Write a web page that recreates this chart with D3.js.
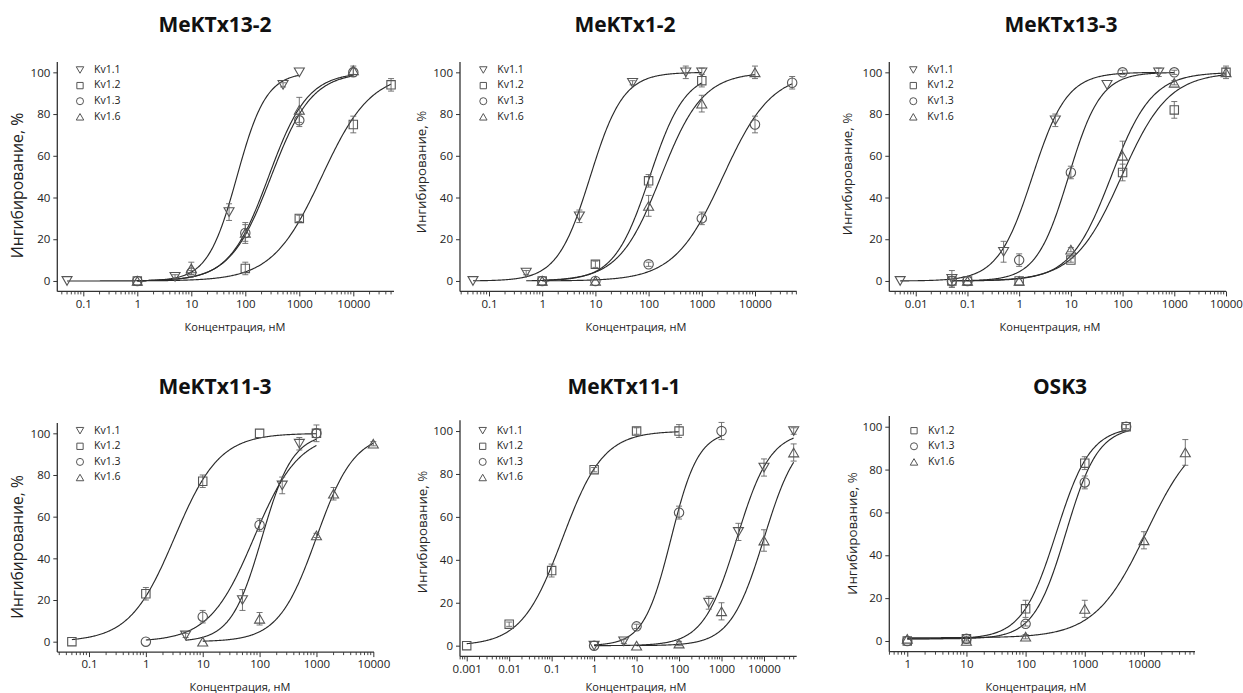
<!DOCTYPE html>
<html><head><meta charset="utf-8">
<script src="https://cdn.jsdelivr.net/npm/d3@7"></script>
<style>
body{margin:0;background:#fff}
svg text{font-family:"Open Sans",sans-serif;fill:#222}
</style>
</head><body>
<svg id="c" width="1243" height="693"></svg>
<script>
// ---------- DATA ----------
const titles = ["MeKTx13-2","MeKTx1-2","MeKTx13-3","MeKTx11-3","MeKTx11-1","OSK3"];
const seriesNames = ["Kv1.1","Kv1.2","Kv1.3","Kv1.6"];
const seriesShapes = {"Kv1.1":"down","Kv1.2":"square","Kv1.3":"circle","Kv1.6":"up"};
const yTickValues = [0,20,40,60,80,100];
const yLabel = "Ингибирование, %";
const xLabel = "Концентрация, нМ";
const xTickLabels = [
  ["0.1","1","10","100","1000","10000"],
  ["0.1","1","10","100","1000","10000"],
  ["0.01","0.1","1","10","100","1000","10000"],
  ["0.1","1","10","100","1000","10000"],
  ["0.001","0.01","0.1","1","10","100","1000","10000"],
  ["1","10","100","1000","10000"]
];

// points: [concentration nM, inhibition %, error]
const mk13_2 = {
  "Kv1.1": [[0.05,0,0],[5,2,1],[50,33,4],[500,94,1],[1000,100,0]],
  "Kv1.2": [[1,0,0],[100,6,3],[1000,30,1.5],[10000,75,4],[50000,94,3]],
  "Kv1.3": [[1,0,0],[10,4,1],[100,23,4],[1000,77,3],[10000,100,2]],
  "Kv1.6": [[1,0,0],[10,6,3],[100,23,5],[1000,82,6],[10000,101,2]]
};
const mk1_2 = {
  "Kv1.1": [[0.05,0,0],[0.5,4,1],[5,31,3],[50,95,1],[500,100,3],[1000,100,2]],
  "Kv1.2": [[1,0,0],[10,8,1.5],[100,48,3],[1000,96,3]],
  "Kv1.3": [[1,0,0],[10,0,0],[100,8,1],[1000,30,3],[10000,75,4],[50000,95,3]],
  "Kv1.6": [[1,0,0],[10,0,0],[100,36,5],[1000,85,4],[10000,100,3]]
};
const mk13_3 = {
  "Kv1.1": [[0.005,0,0],[0.05,1,4],[0.5,14,5],[5,77,3],[50,94,0],[500,100,2]],
  "Kv1.2": [[0.05,0,0],[0.1,0,0],[1,0,0],[10,10,1],[100,52,4],[1000,82,4],[10000,100,3]],
  "Kv1.3": [[0.05,0,3],[0.1,0,0],[1,10,3],[10,52,3],[100,100,1],[1000,100,1]],
  "Kv1.6": [[0.1,0,0],[1,0,0],[10,15,1],[100,60,7],[1000,95,1],[10000,100,2]]
};
const mk11_3 = {
  "Kv1.1": [[5,3,1],[50,20,5],[250,75,4],[500,95,3]],
  "Kv1.2": [[0.05,0,0],[1,23,3],[10,77,3],[100,100,0],[1000,100,4]],
  "Kv1.3": [[1,0,0],[10,12,3],[100,56,3],[1000,100,2]],
  "Kv1.6": [[10,0,0],[100,11,3],[1000,51,1],[2000,71,3],[10000,95,1]]
};
const mk11_1 = {
  "Kv1.1": [[1,0,0],[5,2,1],[500,20,3],[2500,53,4],[10000,83,4],[50000,100,1.5]],
  "Kv1.2": [[0.001,0,0],[0.01,10,1],[0.1,35,3],[1,82,1],[10,100,1.5],[100,100,3]],
  "Kv1.3": [[1,0,0],[10,9,1],[100,62,3],[1000,100,4]],
  "Kv1.6": [[10,0,0],[100,1,1],[1000,16,4],[10000,49,5],[50000,90,4]]
};
const osk3 = {
  "Kv1.2": [[1,0,0],[10,1,1],[100,15,4],[1000,83,3],[5000,100,1]],
  "Kv1.3": [[1,0,0],[10,1,0],[100,8,1],[1000,74,3],[5000,100,1]],
  "Kv1.6": [[1,1,0],[10,0,0],[100,2,1],[1000,15,4],[10000,47,4],[50000,88,6]]
};

// Hill fits: [IC50 nM, Hill slope, bottom %, curve from, curve to]
const mk13_2Fit = {"Kv1.1":[70,1.6,0,0.05,1000],"Kv1.2":[2600,0.95,0,1,50000],"Kv1.3":[300,1.15,0,1,10000],"Kv1.6":[270,1.2,0,1,10000]};
const mk1_2Fit  = {"Kv1.1":[8,1.4,0,0.05,1000],"Kv1.2":[105,1.3,0,0.5,1000],"Kv1.3":[2500,0.95,0,1,50000],"Kv1.6":[170,1.1,0,1,10000]};
const mk13_3Fit = {"Kv1.1":[1.8,1.3,0,0.005,500],"Kv1.2":[95,0.95,0,0.05,10000],"Kv1.3":[9,1.4,0,0.05,1000],"Kv1.6":[60,1.1,0,0.1,10000]};
const mk11_3Fit = {"Kv1.1":[110,1.6,0,5,1000],"Kv1.2":[3.2,1.1,0,0.05,1000],"Kv1.3":[80,1.1,0,1,1000],"Kv1.6":[1000,1.3,0,10,10000]};
const mk11_1Fit = {"Kv1.1":[2300,1.1,0,1,50000],"Kv1.2":[0.18,0.9,0,0.001,100],"Kv1.3":[65,1.35,0,1,1000],"Kv1.6":[10000,1.1,0,10,50000]};
const osk3Fit   = {"Kv1.2":[330,1.5,1,1,5000],"Kv1.3":[480,1.6,1,1,5000],"Kv1.6":[11000,1.0,1.5,1,50000]};

const panelData = [mk13_2, mk1_2, mk13_3, mk11_3, mk11_1, osk3];
const panelFits = [mk13_2Fit, mk1_2Fit, mk13_3Fit, mk11_3Fit, mk11_1Fit, osk3Fit];

// ---------- LAYOUT ----------
const layout = [
  {l:57.3, r:394, t:61.9, b:291.4, xmin:0.033, xmax:56700, tx:215, ty:32, xtx:235, xty:331, ytx:18.5, yty:185.5, yts:15.8, lx:80, ly:70},
  {l:460, r:796.7, t:61.9, b:291.4, xmin:0.0285, xmax:60800, tx:625, ty:32, xtx:636, xty:331, ytx:422, yty:172, yts:13.3, lx:483.3, ly:70},
  {l:889.3, r:1226, t:61.9, b:291.4, xmin:0.00308, xmax:10000, tx:1061, ty:32, xtx:1050, xty:331, ytx:848, yty:174, yts:13.3, lx:913.3, ly:70},
  {l:57.3, r:374, t:422.9, b:652.1, xmin:0.0277, xmax:10280, tx:215, ty:394, xtx:240, xty:691, ytx:18.5, yty:547, yts:15.6, lx:80, ly:430.7},
  {l:460, r:796.7, t:420.3, b:656.4, xmin:0.000695, xmax:58900, tx:624, ty:394, xtx:636, xty:691, ytx:423.5, yty:532, yts:13.3, lx:482.7, ly:430.7},
  {l:889.3, r:1195, t:416, b:651.7, xmin:0.497, xmax:72900, tx:1060, ty:394, xtx:1036, xty:691, ytx:853, yty:533.5, yts:13.3, lx:914, ly:430.7}
];

const svg = d3.select("#c");
const markColor = "#555", curveColor = "#2a2a2a", axisColor = "#333";

function shapePath(shape, s){
  if(shape==="square"){ const h=s*0.42; return `M${-h},${-h}H${h}V${h}H${-h}Z`; }
  if(shape==="circle"){ const r=s*0.47; return `M${r},0A${r},${r} 0 1,1 ${-r},0A${r},${r} 0 1,1 ${r},0Z`; }
  const a=s, hh=a*Math.sqrt(3)/2;
  if(shape==="up") return `M0,${-hh/2}L${a/2},${hh/2}L${-a/2},${hh/2}Z`;
  return `M0,${hh/2}L${a/2},${-hh/2}L${-a/2},${-hh/2}Z`;
}

function hill(x, p){ const f = Math.pow(x/p[0], p[1]); return p[2] + (100-p[2])*f/(1+f); }

panelData.forEach((data, i) => {
  const L = layout[i];
  const g = svg.append("g");
  const x = d3.scaleLog().domain([L.xmin, L.xmax]).range([L.l, L.r]);
  const y = d3.scaleLinear().domain([-5, 105]).range([L.b, L.t]);

  // title
  g.append("text").attr("x", L.tx).attr("y", L.ty).attr("text-anchor","middle")
    .style("font-weight","700").style("font-size","21px").style("fill","#111").text(titles[i]);

  // x axis
  const majors = xTickLabels[i].map(Number);
  const minors = [];
  for(let e=Math.floor(Math.log10(L.xmin)); e<=Math.ceil(Math.log10(L.xmax)); e++){
    for(let m=2;m<=9;m++){ const v=m*Math.pow(10,e); if(v>=L.xmin && v<=L.xmax) minors.push(v); }
  }
  const xa = d3.axisBottom(x).tickValues(majors).tickFormat((d,k)=>xTickLabels[i][k]).tickSize(5).tickPadding(3);
  const xg = g.append("g").attr("transform",`translate(0,${L.b})`).call(xa);
  xg.select(".domain").attr("stroke",axisColor).attr("stroke-width",1.3).attr("d",`M${L.l},0H${L.r}`);
  xg.selectAll(".tick line").attr("stroke",axisColor).attr("stroke-width",1);
  xg.selectAll(".tick text").style("font-size","11.5px").style("fill","#222").style("font-family","'Open Sans',sans-serif");
  g.append("g").selectAll("line").data(minors).join("line")
    .attr("x1",d=>x(d)).attr("x2",d=>x(d)).attr("y1",L.b).attr("y2",L.b+3)
    .attr("stroke",axisColor).attr("stroke-width",0.9);

  // y axis
  const ya = d3.axisLeft(y).tickValues(yTickValues).tickSize(4).tickPadding(3);
  const yg = g.append("g").attr("transform",`translate(${L.l},0)`).call(ya);
  yg.select(".domain").attr("stroke",axisColor).attr("stroke-width",1.3).attr("d",`M0,${L.b}V${L.t}`);
  yg.selectAll(".tick line").attr("stroke",axisColor).attr("stroke-width",1);
  yg.selectAll(".tick text").style("font-size","11.5px").style("fill","#222").style("font-family","'Open Sans',sans-serif");

  // axis titles
  g.append("text").attr("x",L.xtx).attr("y",L.xty).attr("text-anchor","middle")
    .style("font-size","11px").text(xLabel);
  g.append("text").attr("transform",`translate(${L.ytx},${L.yty}) rotate(-90)`)
    .attr("text-anchor","middle").attr("dominant-baseline","middle")
    .style("font-size",L.yts+"px").text(yLabel);

  const fits = panelFits[i];
  const names = Object.keys(data);

  // curves
  names.forEach(name => {
    const p = fits[name];
    const lx0 = Math.log10(p[3]), lx1 = Math.log10(p[4]);
    const pts = d3.range(0, 301).map(k => Math.pow(10, lx0 + (lx1-lx0)*k/300));
    const line = d3.line().x(d=>x(d)).y(d=>y(hill(d,p))).curve(d3.curveLinear);
    g.append("path").attr("d", line(pts)).attr("fill","none")
      .attr("stroke",curveColor).attr("stroke-width",1.15);
  });

  // error bars + markers
  names.forEach(name => {
    const pts = data[name];
    const eg = g.append("g").attr("stroke","#666").attr("stroke-width",0.9);
    pts.filter(d=>d[2]>0).forEach(d => {
      const cx = x(d[0]);
      eg.append("line").attr("x1",cx).attr("x2",cx).attr("y1",y(d[1]-d[2])).attr("y2",y(d[1]+d[2]));
      eg.append("line").attr("x1",cx-3).attr("x2",cx+3).attr("y1",y(d[1]+d[2])).attr("y2",y(d[1]+d[2]));
      eg.append("line").attr("x1",cx-3).attr("x2",cx+3).attr("y1",y(d[1]-d[2])).attr("y2",y(d[1]-d[2]));
    });
    g.append("g").selectAll("path").data(pts).join("path")
      .attr("transform", d=>`translate(${x(d[0])},${y(d[1])})`)
      .attr("d", shapePath(seriesShapes[name], 10))
      .attr("fill","none").attr("stroke",markColor).attr("stroke-width",1.1);
  });

  // legend
  names.forEach((name, k) => {
    const yy = L.ly + k*15.6;
    g.append("path").attr("transform",`translate(${L.lx},${yy})`)
      .attr("d", shapePath(seriesShapes[name], 7.5))
      .attr("fill","none").attr("stroke",markColor).attr("stroke-width",1);
    g.append("text").attr("x", L.lx+14).attr("y", yy).attr("dominant-baseline","middle")
      .style("font-size","10.5px").text(name);
  });
});
</script>
</body></html>
